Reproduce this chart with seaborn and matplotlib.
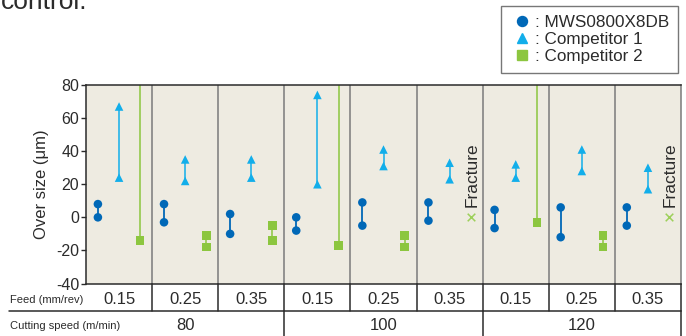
import numpy as np
import pandas as pd
import matplotlib
matplotlib.use('Agg')
import matplotlib.pyplot as plt
import matplotlib.transforms as mtransforms
from matplotlib import font_manager
from matplotlib.lines import Line2D
import seaborn as sns

# conditions (one column per feed / cutting speed pair)
feed_labels = ['0.15', '0.25', '0.35', '0.15', '0.25', '0.35', '0.15', '0.25', '0.35']
speed_labels = ['80', '100', '120']

# over size range (um), upper / lower value of each tool
mws_hi = [8, 8, 2, 0, 9, 9, 4.5, 6, 6]
mws_lo = [0, -3, -10, -8, -5, -2, -6.5, -12, -5]
comp1_hi = [67, 35, 35, 74, 41, 33, 32, 41, 30]
comp1_lo = [24, 22, 24, 20, 31, 23, 24, 28, 17]
# nan upper value = off the scale (line runs past the top)
comp2_hi = [np.nan, -11, -5, np.nan, -11, np.nan, np.nan, -11, np.nan]
comp2_lo = [-14, -18, -14, -17, -18, np.nan, -3, -18, np.nan]
comp2_fracture = [False, False, False, False, False, True, False, False, True]

series_names = ['MWS0800X8DB', 'Competitor 1', 'Competitor 2']
colors = {'MWS0800X8DB': '#0068b7', 'Competitor 1': '#12aeea', 'Competitor 2': '#8cc63f'}
markers = {'MWS0800X8DB': 'o', 'Competitor 1': '^', 'Competitor 2': 's'}
offsets = {'MWS0800X8DB': -0.32, 'Competitor 1': 0.0, 'Competitor 2': 0.32}
ranges = {
    'MWS0800X8DB': (mws_hi, mws_lo),
    'Competitor 1': (comp1_hi, comp1_lo),
    'Competitor 2': (comp2_hi, comp2_lo),
}

rows = []
for name in series_names:
    hi, lo = ranges[name]
    for i in range(len(feed_labels)):
        for v in (hi[i], lo[i]):
            if not np.isnan(v):
                rows.append({'col': i, 'series': name, 'value': v})
df = pd.DataFrame(rows)
df['x'] = df['col'] + df['series'].map(offsets)

sns.set_style('white')
plt.rcParams['font.family'] = ['Liberation Sans', 'DejaVu Sans']
plt.rcParams['axes.unicode_minus'] = False

# condensed font for the table row titles, if there is one
installed = {f.name for f in font_manager.fontManager.ttflist}
if 'Liberation Sans Narrow' in installed:
    narrow, narrow_size = ['Liberation Sans Narrow', 'DejaVu Sans'], 10
else:
    narrow, narrow_size = ['Liberation Sans', 'DejaVu Sans'], 8

W, H = 686, 336
fig = plt.figure(figsize=(W / 100, H / 100), dpi=100)
ax = fig.add_axes([86 / W, (H - 283.5) / H, 595 / W, 198.5 / H])
ax.set_facecolor('#eeebe1')

YMAX, YMIN = 80, -40
ax.set_xlim(-0.5, len(feed_labels) - 0.5)
ax.set_ylim(YMIN, YMAX)

# column separators
for b in np.arange(0.5, len(feed_labels) - 0.5, 1):
    ax.axvline(b, color='#7a7a7a', lw=1.1, zorder=1)

# range lines
for name in series_names:
    hi, lo = ranges[name]
    lw = 1.3 if name == 'MWS0800X8DB' else 1.1
    for i in range(len(feed_labels)):
        if np.isnan(lo[i]):
            continue
        top = YMAX if np.isnan(hi[i]) else hi[i]
        ax.vlines(i + offsets[name], lo[i], top, color=colors[name], lw=lw, zorder=2)

sns.scatterplot(data=df, x='x', y='value', hue='series', style='series',
                palette=colors, markers=markers, s=38, linewidth=0,
                legend=False, ax=ax, zorder=4)

# fractured tools
for i, fr in enumerate(comp2_fracture):
    if fr:
        xi = i + offsets['Competitor 2']
        ax.scatter([xi], [0], marker='x', s=30, color='#9dd05a', linewidths=1.1, zorder=4)
        ax.text(xi + 0.02, 6, 'Fracture', rotation=90, ha='center', va='bottom',
                fontsize=12.5, color='#2b2b2b', zorder=5)

ax.set_xlabel('')
ax.set_xticks([])
ax.set_yticks(np.arange(YMIN, YMAX + 1, 20))
ax.tick_params(axis='y', length=3.5, width=1, pad=1.5, labelsize=11.5, colors='#2b2b2b', left=True)
ax.set_ylabel('Over size (μm)', fontsize=12, color='#2b2b2b', labelpad=5)
for side in ['top', 'left', 'bottom']:
    ax.spines[side].set_color('#2b2b2b')
    ax.spines[side].set_linewidth(1.1)
ax.spines['right'].set_color('#7a7a7a')
ax.spines['right'].set_linewidth(1.1)

# condition table under the plot
tr = mtransforms.blended_transform_factory(ax.transData, fig.transFigure)
y_feed = 1 - 300 / H
y_speed = 1 - 326 / H
y_split = 1 - 310.7 / H
y_top = 1 - 283.5 / H
line_kw = dict(color='#2b2b2b', lw=1.1, clip_on=False)

fig.text(10 / W, y_feed, 'Feed (mm/rev)', family=narrow, fontsize=narrow_size, va='center', color='#2b2b2b')
fig.text(10 / W, y_speed, 'Cutting speed (m/min)', family=narrow, fontsize=narrow_size, va='center', color='#2b2b2b')
fig.add_artist(Line2D([9 / W, 681 / W], [y_split, y_split], **line_kw))

for i, f in enumerate(feed_labels):
    fig.text(i, y_feed, f, transform=tr, ha='center', va='center', fontsize=12, color='#2b2b2b')
    fig.add_artist(Line2D([i + 0.5, i + 0.5], [y_top, y_split], transform=tr, **line_kw))

for j, s in enumerate(speed_labels):
    fig.text(3 * j + 1, y_speed, s, transform=tr, ha='center', va='center', fontsize=12, color='#2b2b2b')
    fig.add_artist(Line2D([3 * j + 2.5, 3 * j + 2.5], [0, y_split], transform=tr, **line_kw))

# legend
handles = [Line2D([], [], ls='none', marker=markers[n], color=colors[n], markersize=7.2) for n in series_names]
fig.legend(handles, [': ' + n for n in series_names], loc='upper left',
           bbox_to_anchor=(501 / W, 1 - 6 / H), frameon=True, fancybox=False,
           edgecolor='#555555', fontsize=12.3, handlelength=1.4, handletextpad=0.1,
           borderpad=0.5, labelspacing=0.13, borderaxespad=0)
leg = fig.legends[0]
leg.get_frame().set_linewidth(1.0)
for t in leg.get_texts():
    t.set_color('#2b2b2b')

# clipped caption text from the page above
fig.text(0.5 / W, 1 - 9 / H, 'control.', fontsize=19, va='baseline', color='#2b2b2b')

fig.savefig('out.png', dpi=100)
